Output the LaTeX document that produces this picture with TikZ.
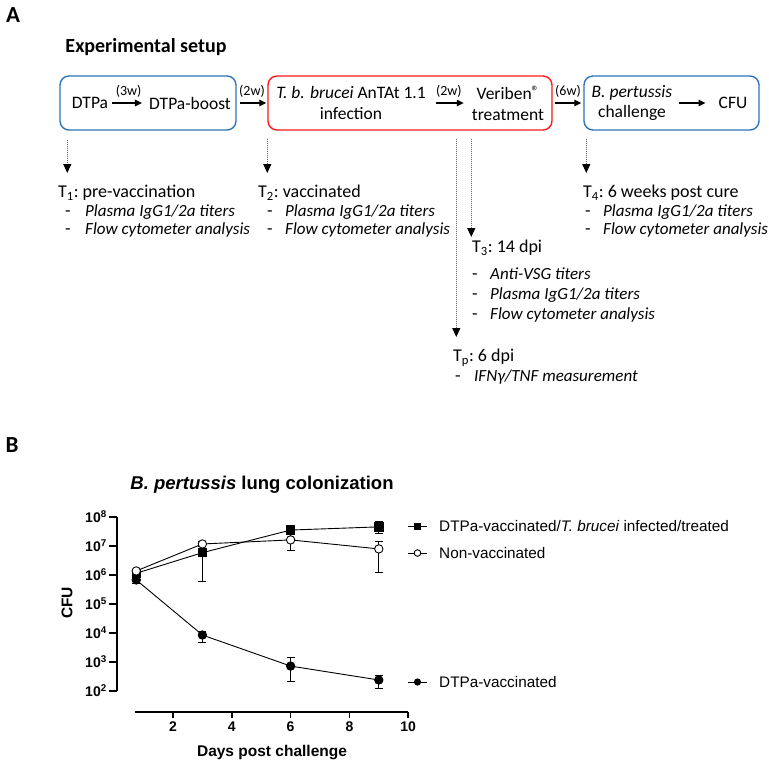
\documentclass[tikz,border=0pt]{standalone}
\usepackage{fontspec}
\setmainfont{Carlito}
\newfontfamily\plotfont{Liberation Sans}
\usetikzlibrary{arrows.meta,positioning,calc,plotmarks}
\definecolor{boxblue}{RGB}{46,117,182}
\definecolor{boxred}{RGB}{255,25,25}
\tikzset{
  stagebox/.style={draw, line width=1.4pt, rounded corners=9pt,
    minimum height=54pt},
  stagetxt/.style={font=\fontsize{17.5}{20.5}\selectfont, align=center,
    inner sep=0pt},
  timearrow/.style={-{Triangle[length=7pt,width=6.5pt]}, line width=1.3pt},
  timelbl/.style={font=\fontsize{14}{16}\selectfont, inner sep=0pt},
  samplearrow/.style={-{Triangle[length=9pt,width=8pt,color=black]},
    dash pattern=on 1pt off 1pt, line width=1.1pt, draw=black!60},
  tpnote/.style={font=\fontsize{18}{18}\selectfont\frenchspacing, align=left,
    anchor=north west, inner sep=0pt,
    execute at begin node={\rule{0pt}{13pt}}},
  panellbl/.style={font=\fontsize{23}{25}\selectfont\bfseries, inner sep=0pt},
  plottxt/.style={font=\plotfont\bfseries\fontsize{14}{16}\selectfont},
  legtxt/.style={font=\plotfont\fontsize{15.3}{17}\selectfont, anchor=west,
    inner sep=0pt},
}
% one dash line of a time point
\newcommand{\tpitem}[3]{\hspace*{#1}\makebox[#2][l]{-}%
  {\fontsize{17}{18}\selectfont\itshape #3}}

\begin{document}
\begin{tikzpicture}[x=1pt, y=-1pt]
\useasboundingbox (0,0) rectangle (769,768);

%% ── Panel A ──────────────────────────────────────────────────────────────
\node[panellbl] (lblA) at (13,15) {A};
\node[font=\fontsize{20}{22}\selectfont\bfseries, inner sep=0pt]
  (setup) at (146,47) {Experimental setup};

\node[stagebox, draw=boxblue, minimum width=176pt] (box1) at (148,103) {};
\node[stagebox, draw=boxred, minimum width=284pt] (box2) at (410,103) {};
\node[stagebox, draw=boxblue, minimum width=175pt] (box3) at (671.5,103) {};

\node[stagetxt] (dtpa)    at (90,103)  {DTPa};
\node[stagetxt] (boost)   at (190,103) {DTPa-boost};
\node[stagetxt] (infect)  at (351,103) {\textit{T. b. brucei} AnTAt 1.1\\infection};
\node[stagetxt] (veriben) at (508,103)
  {Veriben\raisebox{3.5pt}{\fontsize{15}{15}\selectfont ®}\\treatment};
\node[stagetxt] (bpert)   at (632,103) {\textit{B. pertussis}\\challenge};
\node[stagetxt] (cfu)     at (733,103) {CFU};

\draw[timearrow, shorten <=4pt, shorten >=7pt] (dtpa.east) -- node[timelbl, above=5pt] {(3w)} (boost.west);
\draw[timearrow, shorten <=3pt, shorten >=1pt] (box1.east) -- node[timelbl, above=5pt] {(2w)} (box2.west);
\draw[timearrow, shorten <=10pt, shorten >=8pt] (infect.east) -- node[timelbl, above=5pt] {(2w)} (veriben.west);
\draw[timearrow, shorten <=2pt, shorten >=2pt] (box2.east) -- node[timelbl, above=5pt] {(6w)} (box3.west);
\draw[timearrow, shorten <=7pt, shorten >=13pt] (bpert.east) -- (cfu.west);

%% ── Time points ──────────────────────────────────────────────────────────
\node[tpnote] (t1) at (58,185) {T\textsubscript{1}: pre-vaccination\\[1pt]
  \tpitem{7pt}{20pt}{Plasma IgG1/2a titers}\\
  \tpitem{7pt}{20pt}{Flow cytometer analysis}};
\node[tpnote] (t2) at (258,185) {T\textsubscript{2}: vaccinated\\[1pt]
  \tpitem{9pt}{18pt}{Plasma IgG1/2a titers}\\
  \tpitem{9pt}{18pt}{Flow cytometer analysis}};
\node[tpnote] (t4) at (583,185) {T\textsubscript{4}: 6 weeks post cure\\[1pt]
  \tpitem{2pt}{18pt}{Plasma IgG1/2a titers}\\
  \tpitem{2pt}{18pt}{Flow cytometer analysis}};
\node[tpnote] (t3) at (472,240) {T\textsubscript{3}: 14 dpi\\[9pt]
  \tpitem{0pt}{18pt}{Anti-VSG titers}\\[2pt]
  \tpitem{0pt}{18pt}{Plasma IgG1/2a titers}\\[2pt]
  \tpitem{0pt}{18pt}{Flow cytometer analysis}};
\node[tpnote] (tp) at (453,349) {T\textsubscript{p}: 6 dpi\\[2pt]
  \tpitem{2pt}{19pt}{IFNγ/TNF measurement}};

\coordinate (s1) at ([xshift=8pt,yshift=-9pt]box1.south west);
\coordinate (s2) at ([yshift=-8pt]box2.south west);
\coordinate (sp) at ([xshift=189pt,yshift=-8pt]box2.south west);
\coordinate (s3) at ([xshift=204pt,yshift=-8pt]box2.south west);
\coordinate (s4) at ([xshift=3pt,yshift=-8pt]box3.south west);

\draw[samplearrow, shorten >=12pt] (s1) -- (s1 |- t1.north);
\draw[samplearrow, shorten >=12pt] (s2) -- (s2 |- t2.north);
\draw[samplearrow, shorten >=3pt]  (s3) -- (s3 |- t3.north);
\draw[samplearrow, shorten >=12pt] (sp) -- (sp |- tp.north);
\draw[samplearrow, shorten >=12pt] (s4) -- (s4 |- t4.north);

%% ── Panel B ──────────────────────────────────────────────────────────────
\node[panellbl] (lblB) at (12,445) {B};
\node[font=\plotfont\bfseries\fontsize{18.5}{20}\selectfont, inner sep=0pt]
  (ptitle) at (262,485) {\textit{B. pertussis} lung colonization};
\node[plottxt, font=\plotfont\bfseries\fontsize{15.5}{17}\selectfont]
  (xlab) at (272,753) {Days post challenge};
\node[plottxt, font=\plotfont\bfseries\fontsize{15.5}{17}\selectfont,
  rotate=90] (ylab) at (67,603) {CFU};

\begin{scope}[shift={(114.2,749)}, x=29.4pt, y=29pt, line width=0.9pt]
  % axes
  \draw[line width=1.8pt] (0.095,8) -- (0.095,2);
  \foreach \k in {2,...,8}
    \draw[line width=1.5pt] (0.095,\k) -- ++(-8pt,0)
      node[plottxt, left, inner sep=1.5pt] {10\textsuperscript{\k}};
  \draw[line width=1.8pt] (0.707,1.276) -- (10,1.276);
  \foreach \d in {2,4,...,10}
    \draw[line width=1.5pt] (\d,1.276) -- ++(0,-6pt)
      node[plottxt, below, inner sep=3pt] {\d};

  % error bars
  \foreach \d/\lo/\hi in {3/5.79/6.77, 9/7.45/7.86,
      3/7.0/7.15, 6/6.83/7.45, 9/6.10/7.14,
      0.75/5.72/6.0, 3/3.69/4.07, 6/2.34/3.14, 9/2.10/2.55} {
    \draw (\d,\lo) -- (\d,\hi);
    \draw ([xshift=-4pt]\d,\lo) -- ([xshift=4pt]\d,\lo);
    \draw ([xshift=-4pt]\d,\hi) -- ([xshift=4pt]\d,\hi);
  }

  % series
  \draw plot[mark=square*, mark size=4.2pt]
    coordinates {(0.75,6.06) (3,6.77) (6,7.55) (9,7.66)};
  \draw plot[mark=*, mark size=4.2pt, mark options={fill=white}]
    coordinates {(0.75,6.14) (3,7.07) (6,7.21) (9,6.90)};
  \draw plot[mark=*, mark size=4.2pt]
    coordinates {(0.75,5.83) (3,3.93) (6,2.86) (9,2.38)};
\end{scope}

% legend
\draw[line width=0.9pt] (408,526) -- (427,526);
\fill (414,522.5) rectangle (421,529.5);
\draw[line width=0.9pt] (408,553) -- (427,553);
\draw[line width=0.9pt, fill=white] (417.5,553) circle (3.3pt);
\draw[line width=0.9pt] (408,682) -- (427,682);
\fill (417.5,682) circle (3.6pt);
\node[legtxt] (legsq) at (439,526) {DTPa-vaccinated/\textit{T. brucei} infected/treated};
\node[legtxt] (legoc) at (439,553) {Non-vaccinated};
\node[legtxt] (legfc) at (439,682) {DTPa-vaccinated};

\end{tikzpicture}
\end{document}
